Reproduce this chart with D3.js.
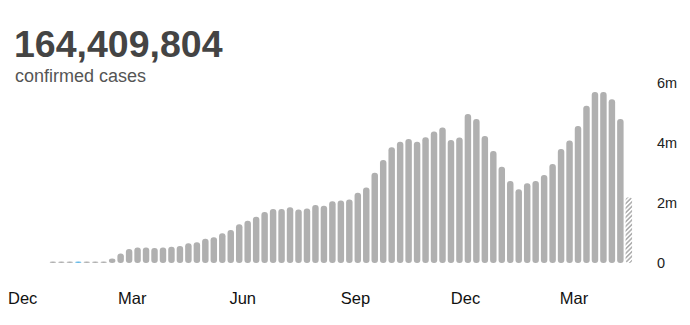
<!DOCTYPE html>
<html>
<head>
<meta charset="utf-8">
<script src="https://cdn.jsdelivr.net/npm/d3@7"></script>
<style>
  body { margin: 0; background: #fff; }
  svg { display: block; font-family: Arial, "Liberation Sans", sans-serif; }
</style>
</head>
<body>
<svg id="chart"></svg>
<script>
// headline numbers
const totalCases = 164409804;
const subtitle = "confirmed cases";

// weekly new cases (millions), first week starts 2020-01-04, last week is partial
const weeklyCases = [
  0.012, 0.02, 0.018, 0.025, 0.015, 0.02, 0.04,
  0.15, 0.32, 0.47, 0.52, 0.52, 0.50, 0.52, 0.54, 0.57, 0.66, 0.69, 0.81, 0.86, 0.99,
  1.10, 1.29, 1.41, 1.54, 1.70, 1.80, 1.80, 1.86, 1.78, 1.82, 1.93, 1.91, 2.06, 2.08,
  2.12, 2.34, 2.52, 3.01, 3.43, 3.86, 4.04, 4.13, 4.04, 4.19, 4.38, 4.52, 4.10, 4.18,
  4.97, 4.80, 4.23, 3.73, 3.21, 2.73, 2.46, 2.66, 2.73, 2.93, 3.30, 3.80, 4.08, 4.57,
  5.24, 5.70, 5.70, 5.46, 4.80, 2.19
];
const firstWeek = new Date(Date.UTC(2020, 0, 4));
const highlightWeek = 3;   // the one blue bar in the early weeks

// axis ticks
const xTickDates = ["2019-12-01", "2020-03-01", "2020-06-01", "2020-09-01", "2020-12-01", "2021-03-01"];
const xTickLabels = ["Dec", "Mar", "Jun", "Sep", "Dec", "Mar"];
const yTicks = [0, 2, 4, 6];
const yTickLabels = ["0", "2m", "4m", "6m"];

const width = 690, height = 325;
const svg = d3.select("#chart").attr("width", width).attr("height", height);

const weeks = weeklyCases.map((v, i) => ({
  date: d3.utcDay.offset(firstWeek, 7 * i),
  value: v,
  partial: i === weeklyCases.length - 1,
  highlight: i === highlightWeek
}));

// x: time scale, ~1.21px per day
const xStart = new Date(Date.UTC(2019, 11, 1));
const xEnd = new Date(Date.UTC(2021, 3, 1));
const x = d3.scaleUtc()
  .domain([xStart, xEnd])
  .range([7.5, 7.5 + 1.21 * d3.utcDay.count(xStart, xEnd)]);

const y = d3.scaleLinear().domain([0, 6]).range([263, 83]);

// hatch pattern for the unfinished week
const defs = svg.append("defs");
defs.append("pattern")
  .attr("id", "hatch")
  .attr("patternUnits", "userSpaceOnUse")
  .attr("width", 3.2)
  .attr("height", 3.2)
  .attr("patternTransform", "rotate(45)")
  .append("rect")
    .attr("width", 1.6)
    .attr("height", 3.2)
    .attr("fill", "#b0b0b0");

// headline
svg.append("text")
  .attr("x", 14)
  .attr("y", 57)
  .attr("font-size", 37.5)
  .attr("font-weight", "bold")
  .attr("fill", "#444")
  .text(d3.format(",")(totalCases));

svg.append("text")
  .attr("x", 15)
  .attr("y", 82)
  .attr("font-size", 18)
  .attr("fill", "#555")
  .text(subtitle);

// bars
const inset = 1;
svg.append("g")
  .selectAll("rect")
  .data(weeks)
  .join("rect")
    .attr("x", d => x(d.date) + inset)
    .attr("width", d => x(d3.utcDay.offset(d.date, 7)) - x(d.date) - 2 * inset)
    .attr("y", d => Math.min(y(d.value), y(0) - 1.5))
    .attr("height", d => Math.max(y(0) - y(d.value), 1.5))
    .attr("rx", 3)
    .attr("fill", d => d.partial ? "url(#hatch)" : d.highlight ? "#63b8e6" : "#b0b0b0");

// x axis
const xAxis = svg.append("g")
  .attr("transform", "translate(0,292)")
  .call(d3.axisBottom(x)
    .tickValues(xTickDates.map(s => new Date(s + "T00:00:00Z")))
    .tickFormat((d, i) => xTickLabels[i])
    .tickSize(0)
    .tickPadding(0));
xAxis.select(".domain").remove();
xAxis.attr("font-family", null).attr("font-size", null);
xAxis.selectAll("text")
  .attr("text-anchor", "start")
  .style("font-size", "16.5px")
  .attr("fill", "#111");

// y axis on the right
const yAxis = svg.append("g")
  .attr("transform", "translate(657,0)")
  .call(d3.axisRight(y)
    .tickValues(yTicks)
    .tickFormat((d, i) => yTickLabels[i])
    .tickSize(0)
    .tickPadding(0));
yAxis.select(".domain").remove();
yAxis.attr("font-family", null).attr("font-size", null);
yAxis.selectAll("text")
  .style("font-size", "14.5px")
  .attr("fill", "#222");
</script>
</body>
</html>
